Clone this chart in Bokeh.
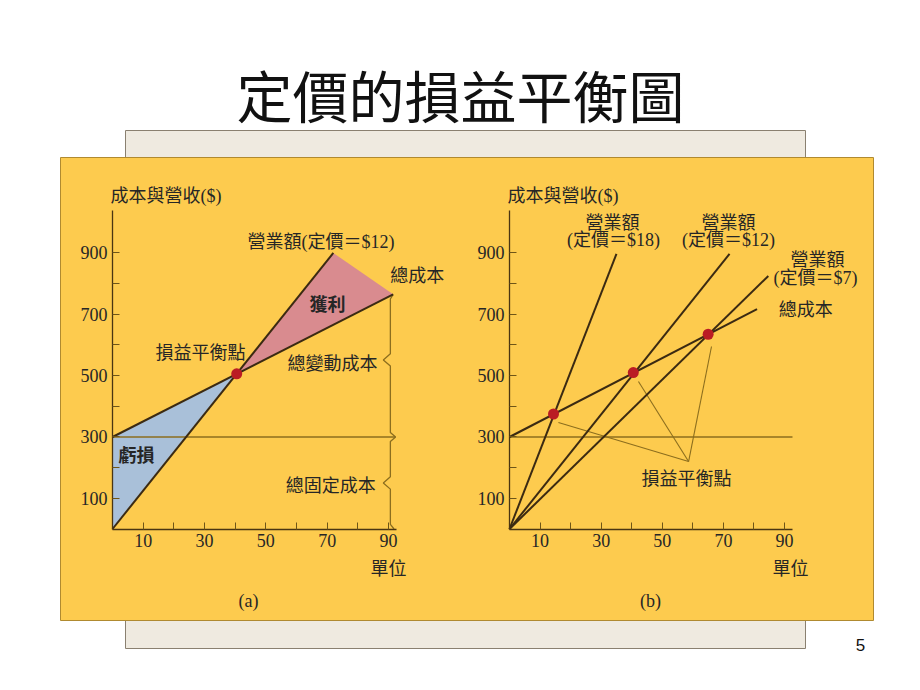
from bokeh.plotting import figure
from bokeh.models import Range1d, LinearAxis, FixedTicker
from bokeh.core.properties import value
from bokeh.embed import file_html
from bokeh.resources import INLINE

# ---------------- data ----------------
title_text = "定價的損益平衡圖"
y_title = "成本與營收($)"
x_title = "單位"
unit_ticks = [10, 30, 50, 70, 90]
unit_minor = [20, 40, 60, 80]
value_ticks = [100, 300, 500, 700, 900]
value_minor = [200, 400, 600, 800]
fixed_cost = 300

# panel (a)
a_rev_x = [0, 72]
a_rev_y = [0, 900]
a_cost_x = [0, 91.5]
a_cost_y = [300, 765]
a_be_x = [40.5]
a_be_y = [506]

# panel (b)
b_cost_x = [0, 81]
b_cost_y = [300, 717]
b_rev18_x = [0, 35]
b_rev18_y = [0, 897]
b_rev12_x = [0, 72]
b_rev12_y = [0, 897]
b_rev7_x = [0, 84.7]
b_rev7_y = [0, 825]
b_be_x = [14.4, 40.5, 65]
b_be_y = [375, 510, 635]
b_leader_x0 = [16.0, 42.2, 66.1]
b_leader_y0 = [347, 481, 595]
b_leader_x1 = [58.6, 58.6, 58.6]
b_leader_y1 = [220, 220, 220]

# ---------------- styles ----------------
YELLOW = "#FDCB4E"
BEIGE = "#EFEAE0"
DARK = "#3B2A12"
OLIVE = "#8C6E1E"
PINK = "#D98B8F"
BLUE = "#A9C0D9"
RED = "#BA1C24"
TXT = "#262626"
CJK = "Noto Sans CJK TC"
MIX = "Liberation Serif, Noto Sans CJK TC"
SERIF = "Liberation Serif"

W, H = 904, 674
OFF = 0  # picture pixel of the frame's left/top edge
p = figure(width=W, height=H, x_range=Range1d(OFF, OFF + W), y_range=Range1d(OFF + H, OFF),
           output_backend="svg", toolbar_location=None, title=None,
           x_axis_location=None, y_axis_location=None, min_border=0)
p.outline_line_color = None
p.background_fill_color = "white"
p.border_fill_color = "white"
p.xgrid.visible = False
p.ygrid.visible = False

# panel scales (pixel origin / pixel per unit)
AX0, AXS = 112.0, 3.067
BX0, BXS = 509.0, 3.056
Y0, YS = 528.5, 0.3067
p.extra_x_ranges = {
    "ax": Range1d((OFF - AX0) / AXS, (OFF + W - AX0) / AXS),
    "bx": Range1d((OFF - BX0) / BXS, (OFF + W - BX0) / BXS),
}
p.extra_y_ranges = {"vy": Range1d((Y0 - (OFF + H)) / YS, (Y0 - OFF) / YS)}

# ---------------- slide decoration ----------------
p.quad(left=125, right=805, top=130, bottom=648, fill_color=BEIGE, line_color="#8A8070", line_width=1)
p.quad(left=60, right=873, top=157, bottom=620, fill_color=YELLOW, line_color="#B08A30", line_width=1)
p.text(x=[460], y=[93], text=[title_text], text_font=value(CJK), text_font_size=value("56px"),
       text_align="center", text_baseline="middle", text_color="#111111")
p.text(x=[860], y=[644], text=["5"], text_font=value("Liberation Sans"), text_font_size=value("17px"),
       text_align="center", text_baseline="middle", text_color="#111111")
p.text(x=[248, 650], y=[600, 600], text=["(a)", "(b)"], text_font=value(SERIF),
       text_font_size=value("18px"), text_align="center", text_baseline="middle", text_color=TXT)


def add_axes(xr):
    xa = LinearAxis(x_range_name=xr, y_range_name="vy", fixed_location=0, bounds=(0, 92.5),
                    ticker=FixedTicker(ticks=unit_ticks, minor_ticks=unit_minor))
    ya = LinearAxis(x_range_name=xr, y_range_name="vy", fixed_location=0, bounds=(0, 1040),
                    ticker=FixedTicker(ticks=value_ticks, minor_ticks=value_minor))
    for ax in (xa, ya):
        ax.axis_line_color = "#4A3512"
        ax.axis_line_width = 1.3
        ax.major_tick_in = 7
        ax.major_tick_out = 0
        ax.minor_tick_in = 7
        ax.minor_tick_out = 0
        ax.major_tick_line_color = "#6E5518"
        ax.minor_tick_line_color = "#6E5518"
        ax.major_label_text_font = SERIF
        ax.major_label_text_font_size = "18px"
        ax.major_label_text_color = TXT
        ax.major_label_standoff = 5
    p.add_layout(xa, "below")
    p.add_layout(ya, "left")


def label(txt, x, y, xr, align="left", font=CJK, bold=False):
    p.text(x=[x], y=[y], text=[txt], x_range_name=xr, y_range_name="vy",
           text_font=value(font), text_font_size=value("18px"),
           text_font_style="bold" if bold else "normal",
           text_align=align, text_baseline="middle", text_color=TXT)


# ---------------- panel (a) ----------------
R = dict(x_range_name="ax", y_range_name="vy")
p.patch(x=[0, 0, a_be_x[0]], y=[0, fixed_cost, a_be_y[0]], fill_color=BLUE, line_color=None, **R)
p.patch(x=[a_be_x[0], a_rev_x[1], a_cost_x[1]], y=[a_be_y[0], a_rev_y[1], a_cost_y[1]],
        fill_color=PINK, line_color=None, **R)
p.line(x=[0, 92.3], y=[fixed_cost, fixed_cost], line_color=OLIVE, line_width=1.3, **R)

# braces
xl = 90.6
top = a_cost_y[1]
mid_u = fixed_cost + 0.54 * (top - fixed_cost)
mid_l = fixed_cost * 0.5
p.line(x=[a_cost_x[1], xl, xl, xl - 2.3, xl, xl, xl + 1.7],
       y=[top, top - 15, mid_u + 20, mid_u, mid_u - 20, fixed_cost + 15, fixed_cost],
       line_color=OLIVE, line_width=1.3, **R)
p.line(x=[xl + 1.7, xl, xl, xl - 2.3, xl, xl, xl + 1.2],
       y=[fixed_cost, fixed_cost - 15, mid_l + 20, mid_l, mid_l - 20, 15, 0],
       line_color=OLIVE, line_width=1.3, **R)

p.line(x=a_rev_x, y=a_rev_y, line_color=DARK, line_width=2, **R)
p.line(x=a_cost_x, y=a_cost_y, line_color=DARK, line_width=2, **R)
p.scatter(x=a_be_x, y=a_be_y, size=11, fill_color=RED, line_color=None, **R)
add_axes("ax")

label(y_title, -0.65, 1087, "ax", font=MIX)
label("營業額(定價＝$12)", 44.0, 937, "ax", font=MIX)
label("總成本", 90.6, 833, "ax")
label("獲利", 70.1, 738, "ax", align="center", bold=True)
label("損益平衡點", 43.4, 582, "ax", align="right")
label("總變動成本", 86.4, 546, "ax", align="right")
label("虧損", 1.96, 246, "ax", bold=True)
label("總固定成本", 85.8, 148, "ax", align="right")
label(x_title, 84.1, -125, "ax")

# ---------------- panel (b) ----------------
R = dict(x_range_name="bx", y_range_name="vy")
p.line(x=[0, 92.6], y=[fixed_cost, fixed_cost], line_color=OLIVE, line_width=1.3, **R)
p.segment(x0=b_leader_x0, y0=b_leader_y0, x1=b_leader_x1, y1=b_leader_y1,
          line_color=OLIVE, line_width=1.1, **R)
for xs, ys in ((b_cost_x, b_cost_y), (b_rev18_x, b_rev18_y), (b_rev12_x, b_rev12_y), (b_rev7_x, b_rev7_y)):
    p.line(x=xs, y=ys, line_color=DARK, line_width=2, **R)
p.scatter(x=b_be_x, y=b_be_y, size=11, fill_color=RED, line_color=None, **R)
add_axes("bx")

label(y_title, -0.65, 1087, "bx", font=MIX)
label("營業額", 33.7, 1003, "bx", align="center")
label("(定價＝$18)", 34.0, 941, "bx", align="center", font=MIX)
label("營業額", 71.7, 1003, "bx", align="center")
label("(定價＝$12)", 71.7, 941, "bx", align="center", font=MIX)
label("營業額", 100.8, 882, "bx", align="center")
label("(定價＝$7)", 100.1, 820, "bx", align="center", font=MIX)
label("總成本", 96.9, 719, "bx", align="center")
label("損益平衡點", 57.9, 168, "bx", align="center")
label(x_title, 86.1, -125, "bx")

open("out.html", "w").write(file_html(p, INLINE))
